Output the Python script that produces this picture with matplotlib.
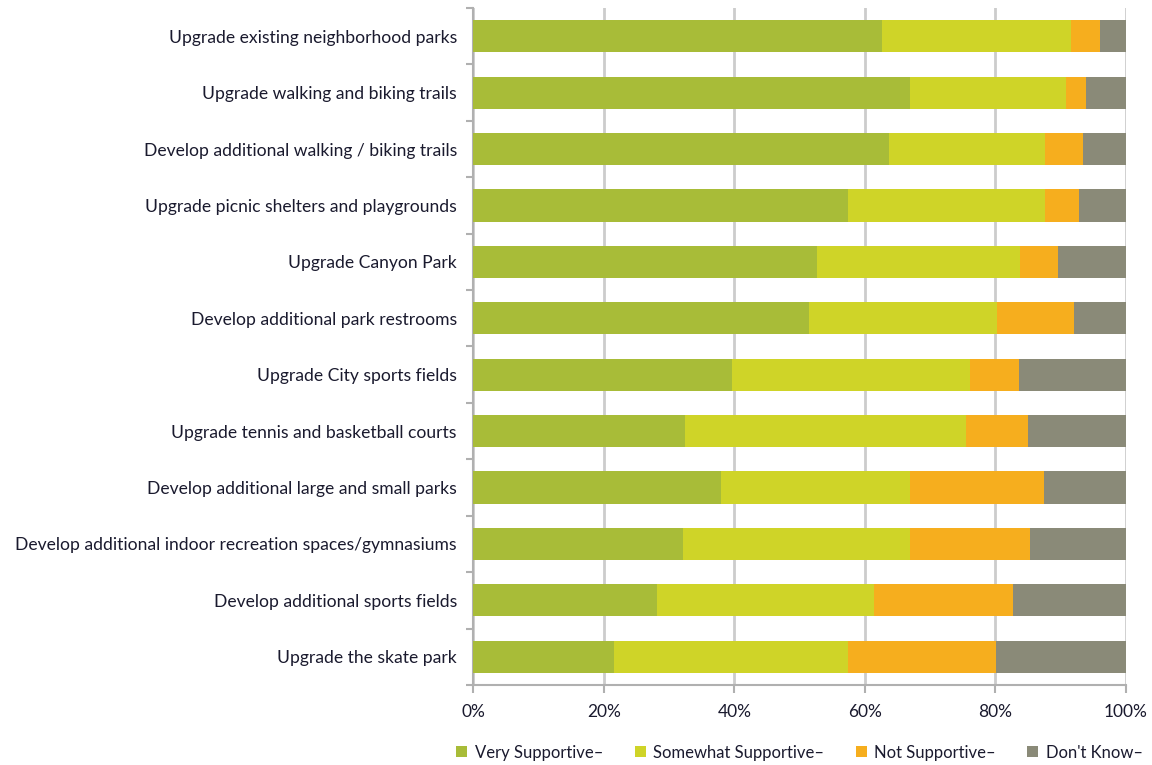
import numpy as np
import matplotlib.pyplot as plt
from matplotlib.ticker import FixedLocator, PercentFormatter

plt.rcParams['font.family'] = ['Lato', 'DejaVu Sans']

categories = [
    "Upgrade existing neighborhood parks",
    "Upgrade walking and biking trails",
    "Develop additional walking / biking trails",
    "Upgrade picnic shelters and playgrounds",
    "Upgrade Canyon Park",
    "Develop additional park restrooms",
    "Upgrade City sports fields",
    "Upgrade tennis and basketball courts",
    "Develop additional large and small parks",
    "Develop additional indoor recreation spaces/gymnasiums",
    "Develop additional sports fields",
    "Upgrade the skate park",
]
very_supportive = [62.6, 67.0, 63.8, 57.5, 52.7, 51.4, 39.6, 32.5, 38.0, 32.2, 28.1, 21.5]
somewhat_supportive = [29.0, 23.8, 23.8, 30.1, 31.1, 28.9, 36.5, 43.1, 29.0, 34.8, 33.3, 35.9]
not_supportive = [4.5, 3.2, 5.9, 5.3, 5.9, 11.8, 7.5, 9.5, 20.5, 18.3, 21.3, 22.7]
dont_know = [3.9, 6.0, 6.5, 7.1, 10.3, 7.9, 16.4, 14.9, 12.5, 14.7, 17.3, 19.9]

series = [
    ("Very Supportive\u2013", very_supportive, "#A8BC38"),
    ("Somewhat Supportive\u2013", somewhat_supportive, "#CFD428"),
    ("Not Supportive\u2013", not_supportive, "#F6AE1E"),
    ("Don't Know\u2013", dont_know, "#8A8A78"),
]

fig = plt.figure(figsize=(11.52, 7.65), dpi=100)
ax = fig.add_axes([0.411, 0.1046, 0.566, 0.885])

y = np.arange(len(categories))
left = np.zeros(len(categories))
for label, vals, color in series:
    vals = np.array(vals)
    ax.barh(y, vals, left=left, height=0.57, color=color, label=label, zorder=3)
    left += vals

ax.set_xlim(0, 100)
ax.set_ylim(len(categories) - 0.5, -0.5)
ax.set_yticks(y)
ax.set_yticklabels(categories, fontsize=12.6, color='#1a1a2e')
ax.tick_params(axis='y', which='major', length=0, pad=12)
ax.yaxis.set_minor_locator(FixedLocator(np.arange(-0.5, len(categories), 1)))
ax.tick_params(axis='y', which='minor', length=5, color='#b0b0b0', width=1.5)

ax.set_xticks(np.arange(0, 101, 20))
ax.xaxis.set_major_formatter(PercentFormatter(decimals=0))
ax.tick_params(axis='x', which='major', length=6, color='#b0b0b0', width=1.5,
               labelsize=12.5, pad=8, labelcolor='#1a1a2e')
ax.grid(axis='x', color='#cccccc', linewidth=2, zorder=0)

for side in ['top', 'right']:
    ax.spines[side].set_visible(False)
for side in ['left', 'bottom']:
    ax.spines[side].set_color('#b0b0b0')
    ax.spines[side].set_linewidth(1.5)

fig.legend(loc='lower center', bbox_to_anchor=(0.694, -0.014), ncol=4, frameon=False,
           fontsize=12, handlelength=0.65, handleheight=0.65, columnspacing=1.9,
           handletextpad=0.45, labelcolor='#1a1a2e')

plt.savefig('out.png', dpi=100)
